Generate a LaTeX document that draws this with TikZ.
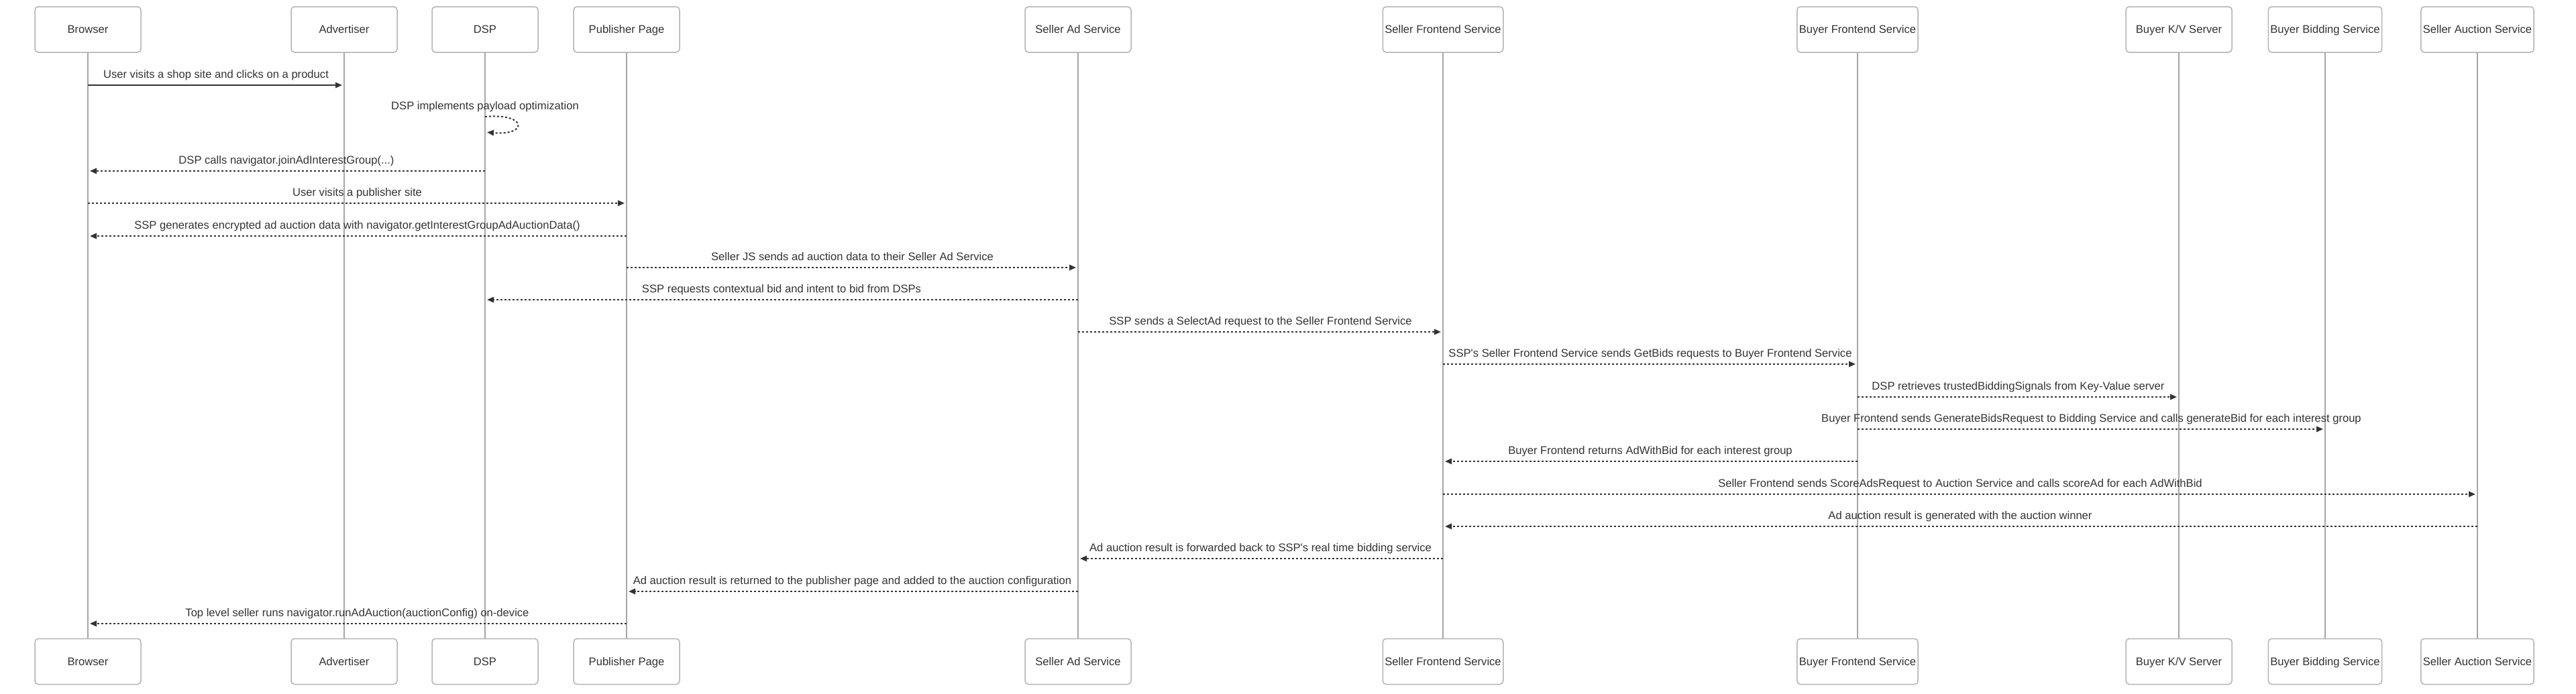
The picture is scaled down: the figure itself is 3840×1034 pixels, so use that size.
\documentclass[tikz,border=0pt]{standalone}
\usepackage{fontspec}
\setmainfont{Liberation Sans}
\usepackage{tikz}
\usetikzlibrary{
	positioning,
	arrows.meta
}
\definecolor{inkgray}{HTML}{333333}
\definecolor{framegray}{HTML}{B3B3B3}
\definecolor{lifegray}{HTML}{A6A6A6}
\tikzset{
	actor/.style={
		draw=framegray, line width=0.75pt, rounded corners=2.5pt, fill=white,
		minimum width=79pt, minimum height=34pt, inner xsep=1.5pt,
		text height=7.7pt, text depth=1.8pt,
		text=inkgray, font=\fontsize{8.3}{10}\selectfont
	},
	lifeline/.style={
		draw=lifegray, line width=0.65pt
	},
	call/.style={
		draw=inkgray, line width=1pt, shorten >=1.5pt,
		-{Triangle[length=5pt,width=4.2pt]}
	},
	reply/.style={
		call, dash pattern=on 1.5pt off 1.5pt
	},
	msg/.style={
		anchor=base, yshift=5.4pt, inner sep=0pt,
		text=inkgray, font=\fontsize{8.3}{10}\selectfont
	}
}

\begin{document}
\begin{tikzpicture}[x=0.5pt, y=-0.5pt, node distance=436.5pt]
		\useasboundingbox (0,0) rectangle (3840,1034);
		\draw
			node[actor] (browser)    at (131,44)  {Browser}
			node[actor] (advertiser) at (513,44)  {Advertiser}
			node[actor] (dsp)        at (723,44)  {DSP}
			node[actor] (publisher)  at (934,44)  {Publisher Page}
			node[actor] (sellerad)   at (1607,44) {Seller Ad Service}
			node[actor] (sellerfe)   at (2151,44) {Seller Frontend Service}
			node[actor] (buyerfe)    at (2769,44) {Buyer Frontend Service}
			node[actor] (buyerkv)    at (3248,44) {Buyer K/V Server}
			node[actor] (buyerbid)   at (3466,44) {Buyer Bidding Service}
			node[actor] (sellerauc)  at (3693,44) {Seller Auction Service}

			node[actor,below=of browser]    (browser2)    {Browser}
			node[actor,below=of advertiser] (advertiser2) {Advertiser}
			node[actor,below=of dsp]        (dsp2)        {DSP}
			node[actor,below=of publisher]  (publisher2)  {Publisher Page}
			node[actor,below=of sellerad]   (sellerad2)   {Seller Ad Service}
			node[actor,below=of sellerfe]   (sellerfe2)   {Seller Frontend Service}
			node[actor,below=of buyerfe]    (buyerfe2)    {Buyer Frontend Service}
			node[actor,below=of buyerkv]    (buyerkv2)    {Buyer K/V Server}
			node[actor,below=of buyerbid]   (buyerbid2)   {Buyer Bidding Service}
			node[actor,below=of sellerauc]  (sellerauc2)  {Seller Auction Service}
		;

		% lifelines
		\draw[lifeline] (browser) -- (browser2);
		\draw[lifeline] (advertiser) -- (advertiser2);
		\draw[lifeline] (dsp) -- (dsp2);
		\draw[lifeline] (publisher) -- (publisher2);
		\draw[lifeline] (sellerad) -- (sellerad2);
		\draw[lifeline] (sellerfe) -- (sellerfe2);
		\draw[lifeline] (buyerfe) -- (buyerfe2);
		\draw[lifeline] (buyerkv) -- (buyerkv2);
		\draw[lifeline] (buyerbid) -- (buyerbid2);
		\draw[lifeline] (sellerauc) -- (sellerauc2);

		% messages
		\draw
			(browser |- 0,127) edge[call] node[msg] {User visits a shop site and clicks on a product} (advertiser |- 0,127)
			node[msg] at (dsp |- 0,174) {DSP implements payload optimization}
			(dsp |- 0,174) edge[reply,out=5,in=-5,distance=32pt] (dsp |- 0,197)
			(dsp |- 0,255) edge[reply] node[msg] {DSP calls navigator.joinAdInterestGroup(...)} (browser |- 0,255)
			(browser |- 0,303) edge[reply] node[msg] {User visits a publisher site} (publisher |- 0,303)
			(publisher |- 0,352) edge[reply] node[msg] {SSP generates encrypted ad auction data with navigator.getInterestGroupAdAuctionData()} (browser |- 0,352)
			(publisher |- 0,399) edge[reply] node[msg] {Seller JS sends ad auction data to their Seller Ad Service} (sellerad |- 0,399)
			(sellerad |- 0,447) edge[reply] node[msg] {SSP requests contextual bid and intent to bid from DSPs} (dsp |- 0,447)
			(sellerad |- 0,495) edge[reply] node[msg] {SSP sends a SelectAd request to the Seller Frontend Service} (sellerfe |- 0,495)
			(sellerfe |- 0,543) edge[reply] node[msg] {SSP\textquotesingle s Seller Frontend Service sends GetBids requests to Buyer Frontend Service} (buyerfe |- 0,543)
			(buyerfe |- 0,592) edge[reply] node[msg] {DSP retrieves trustedBiddingSignals from Key-Value server} (buyerkv |- 0,592)
			(buyerfe |- 0,640) edge[reply] node[msg] {Buyer Frontend sends GenerateBidsRequest to Bidding Service and calls generateBid for each interest group} (buyerbid |- 0,640)
			(buyerfe |- 0,688) edge[reply] node[msg] {Buyer Frontend returns AdWithBid for each interest group} (sellerfe |- 0,688)
			(sellerfe |- 0,737) edge[reply] node[msg] {Seller Frontend sends ScoreAdsRequest to Auction Service and calls scoreAd for each AdWithBid} (sellerauc |- 0,737)
			(sellerauc |- 0,785) edge[reply] node[msg] {Ad auction result is generated with the auction winner} (sellerfe |- 0,785)
			(sellerfe |- 0,833) edge[reply] node[msg] {Ad auction result is forwarded back to SSP\textquotesingle s real time bidding service} (sellerad |- 0,833)
			(sellerad |- 0,882) edge[reply] node[msg] {Ad auction result is returned to the publisher page and added to the auction configuration} (publisher |- 0,882)
			(publisher |- 0,930) edge[reply] node[msg] {Top level seller runs navigator.runAdAuction(auctionConfig) on-device} (browser |- 0,930)
		;
	\end{tikzpicture}
\end{document}
